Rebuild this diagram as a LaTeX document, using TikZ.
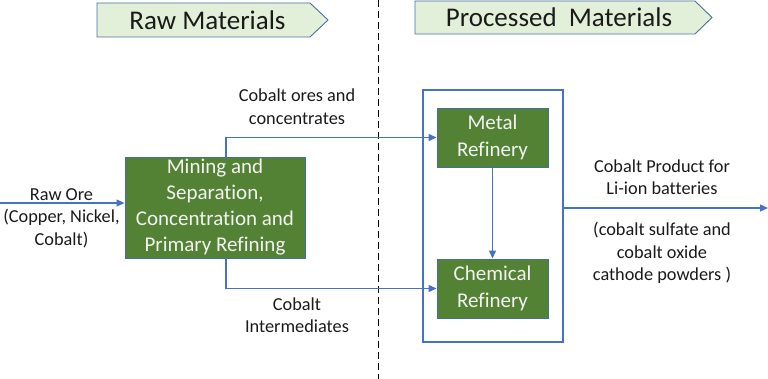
\documentclass[tikz,border=0pt]{standalone}
\usepackage{fontspec}
\setmainfont[Ligatures=NoCommon]{Carlito}
\usetikzlibrary{arrows.meta,positioning}
\definecolor{flowblue}{HTML}{4472C4}
\definecolor{boxgreen}{HTML}{548235}
\definecolor{boxedge}{HTML}{41719C}
\definecolor{bannerfill}{HTML}{E2F0D9}
\definecolor{banneredge}{HTML}{4A6FA5}
\definecolor{txt}{HTML}{1A1A1A}
\tikzset{
  x=1pt, y=-1pt,
  flow/.style={draw=flowblue, line width=1.2pt, -{Triangle[length=8pt,width=7pt]}},
  process/.style={draw=boxedge, line width=0.9pt, fill=boxgreen, text=white!95!black,
    align=center, inner sep=0pt},
  lbl/.style={text=txt, align=center, font=\fontsize{18.3}{22.5}\selectfont},
  banner/.style={draw=banneredge, line width=0.9pt, fill=bannerfill},
  bannertext/.style={text=txt, font=\fontsize{27}{30}\selectfont},
}
\begin{document}
\begin{tikzpicture}
\useasboundingbox (0,0) rectangle (768,379);

% divider between the two stages
\draw[black, line width=1pt, dash pattern=on 7pt off 4pt] (378,0) -- (378,379);

% stage banners
\draw[banner] (97,3) -- (310,3) -- (328,20) -- (310,37) -- (97,37) -- cycle;
\node[bannertext] (rawtitle) at (207.5,20) {Raw Materials};
\draw[banner] (415,1) -- (695,1) -- (712,17.5) -- (695,34) -- (415,34) -- cycle;
\node[bannertext] (proctitle) at (559,17.5) {Processed\ \ Materials};

% process boxes
\node[process, minimum width=180pt, minimum height=101pt,
      font=\fontsize{21}{26}\selectfont] (mining) at (215,207.5)
  {Mining and\\Separation,\\Concentration and\\Primary Refining};
\node[draw=flowblue, line width=1.2pt, minimum width=140pt, minimum height=252pt,
      inner sep=0pt] (plant) at (493,216) {};
\node[process, minimum width=111pt, minimum height=59pt,
      font=\fontsize{21}{27}\selectfont] (metal) at (492.5,137.5) {Metal\\Refinery};
\node[process, minimum width=111pt, minimum height=59pt,
      font=\fontsize{21}{27}\selectfont] (chem) at (492.5,288.5) {Chemical\\Refinery};

% connectors
\coordinate (orein) at (0,203);
\coordinate (tap) at (226,0);
\coordinate (prodout) at (768,208);
\draw[flow] (orein) -- (orein -| mining.west);
\draw[flow] (mining.north -| tap) |- (metal.west);
\draw[flow] (mining.south -| tap) |- (chem.west);
\draw[flow] (metal.south) -- (chem.north);
\draw[flow] (plant.east |- prodout) -- (prodout);

% labels
\node[lbl] (orelbl) at (61.5,218) {Raw Ore\\(Copper, Nickel,\\Cobalt)};
\node[lbl] (conclbl) at (297,106.5) {Cobalt ores and\\concentrates};
\node[lbl] (intlbl) at (297,315) {Cobalt\\Intermediates};
\node[lbl] (prodlbl) at (662,177) {Cobalt Product for\\Li-ion batteries};
\node[lbl] (powdlbl) at (662,253) {(cobalt sulfate and\\cobalt oxide\\cathode powders )};
\end{tikzpicture}
\end{document}
